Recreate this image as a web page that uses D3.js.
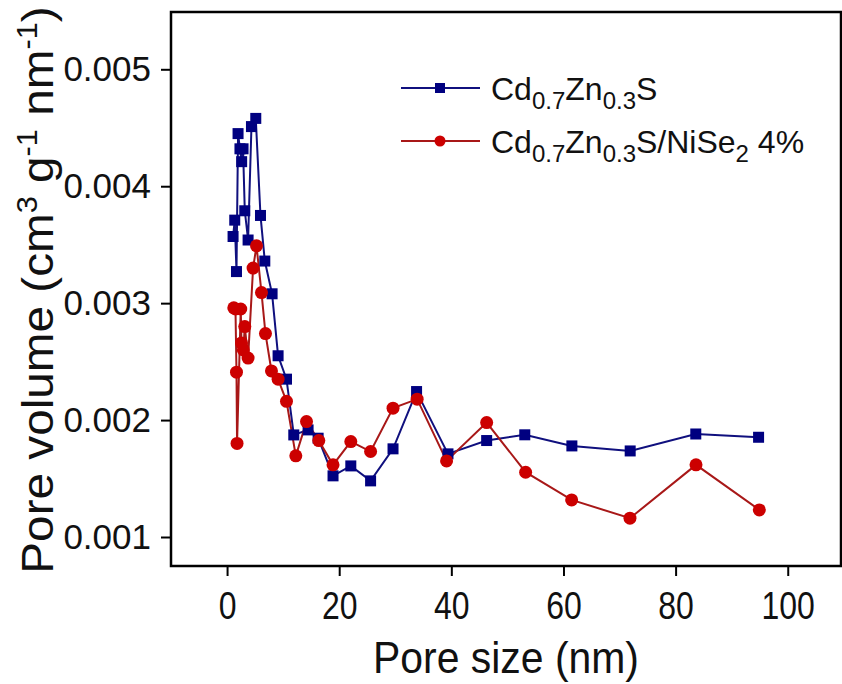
<!DOCTYPE html>
<html>
<head>
<meta charset="utf-8">
<script src="https://cdn.jsdelivr.net/npm/d3@7"></script>
<style>
  body { margin: 0; background: #fff; }
  svg text { font-family: "Liberation Sans", Arial, sans-serif; fill: #111; }
</style>
</head>
<body>
<svg id="chart" width="842" height="684"></svg>
<script>
// Pore size distribution data
const bareSize = [1.07, 1.37, 1.68, 1.96, 2.3, 2.6, 2.85, 3.16, 3.75, 4.35, 5.12, 5.96, 6.73, 8.03, 9.1, 10.6,
    11.9, 14.45, 16.24, 18.9, 22.07, 25.6, 29.6, 33.8, 39.4, 46.3, 53.1, 61.5, 71.9, 83.6, 94.8];
const bareVolume = [0.00357, 0.00371, 0.00327, 0.00445, 0.00432, 0.00421, 0.00432, 0.00379, 0.00354, 0.00451, 0.00458, 0.00375, 0.00336, 0.00308, 0.00255, 0.00235,
    0.001873, 0.001916, 0.001845, 0.001523, 0.001608, 0.00148, 0.001754, 0.002244, 0.001711, 0.001825, 0.001874, 0.001779, 0.001736, 0.001881, 0.001853];

const niseSize = [1.2, 1.5, 1.68, 1.78, 2.44, 2.57, 2.9, 3.16, 3.75, 4.64, 5.25, 6.14, 6.85, 7.92, 9.1, 10.6,
    12.26, 14.17, 16.36, 18.9, 22.07, 25.6, 29.6, 33.9, 39.15, 46.3, 53.25, 61.46, 71.86, 83.64, 94.93];
const niseVolume = [0.00296, 0.00295, 0.00241, 0.0018, 0.00295, 0.00266, 0.0026, 0.0028, 0.00253, 0.0033, 0.00349, 0.00309, 0.00274, 0.00242, 0.00235, 0.00216,
    0.001694, 0.001987, 0.001825, 0.001617, 0.001816, 0.001731, 0.002102, 0.002179, 0.001651, 0.001979, 0.001554, 0.001317, 0.001161, 0.001617, 0.001232];

const xTicks = [0, 20, 40, 60, 80, 100];
const yTicks = [0.001, 0.002, 0.003, 0.004, 0.005];

const svg = d3.select("#chart");

// plot frame in pixels
const frame = {left: 171, top: 12, right: 841, bottom: 566};

const x = d3.scaleLinear().domain([-10, 109.5]).range([frame.left, frame.right]);
const y = d3.scaleLinear().domain([0.000752, 0.00549]).range([frame.bottom, frame.top]);

// Frame
svg.append("rect")
    .attr("x", frame.left).attr("y", frame.top)
    .attr("width", frame.right - frame.left).attr("height", frame.bottom - frame.top)
    .attr("fill", "none")
    .attr("stroke", "#000")
    .attr("stroke-width", 2.5);

// X axis (condensed digits like the original)
const xAxis = svg.append("g")
    .attr("transform", `translate(0,${frame.bottom})`)
    .call(d3.axisBottom(x).tickValues(xTicks).tickSize(10).tickSizeOuter(0).tickPadding(15).tickFormat(d3.format("d")));
xAxis.select(".domain").remove();
xAxis.selectAll("line").attr("stroke", "#000").attr("stroke-width", 2);
xAxis.selectAll("text")
    .style("font-size", "39px")
    .attr("transform", "scale(0.82,1)")
    .attr("fill", "#111");

// Y axis
const yAxis = svg.append("g")
    .attr("transform", `translate(${frame.left},0)`)
    .call(d3.axisLeft(y).tickValues(yTicks).tickSize(10).tickSizeOuter(0).tickPadding(10).tickFormat(d3.format(".3f")));
yAxis.select(".domain").remove();
yAxis.selectAll("line").attr("stroke", "#000").attr("stroke-width", 2);
yAxis.selectAll("text")
    .style("font-size", "35px")
    .attr("fill", "#111");

// Axis titles
svg.append("text")
    .attr("transform", "translate(506,673) scale(0.93,1)")
    .attr("text-anchor", "middle")
    .style("font-size", "44px")
    .text("Pore size (nm)");

const yTitle = svg.append("text")
    .attr("transform", "translate(53,290) rotate(-90) scale(1.06,1)")
    .attr("text-anchor", "middle")
    .style("font-size", "45px");
yTitle.append("tspan").text("Pore volume (cm");
yTitle.append("tspan").attr("dy", -16).style("font-size", "29px").text("3");
yTitle.append("tspan").attr("dy", 16).text(" g");
yTitle.append("tspan").attr("dy", -16).style("font-size", "29px").text("-1");
yTitle.append("tspan").attr("dy", 16).text(" nm");
yTitle.append("tspan").attr("dy", -16).style("font-size", "29px").text("-1");
yTitle.append("tspan").attr("dy", 16).text(")");

// Series
const line = d3.line().x(d => x(d[0])).y(d => y(d[1]));
const bare = bareSize.map((s, i) => [s, bareVolume[i]]);
const nise = niseSize.map((s, i) => [s, niseVolume[i]]);

const blueLine = "#10107e", blueFill = "#000080";
const redLine = "#a81818", redFill = "#cc0000";

svg.append("path").datum(bare)
    .attr("fill", "none").attr("stroke", blueLine).attr("stroke-width", 2)
    .attr("d", line);
svg.append("path").datum(nise)
    .attr("fill", "none").attr("stroke", redLine).attr("stroke-width", 2)
    .attr("d", line);

svg.selectAll(".sq").data(bare).enter().append("rect")
    .attr("x", d => x(d[0]) - 5.5).attr("y", d => y(d[1]) - 5.5)
    .attr("width", 11).attr("height", 11)
    .attr("fill", blueFill);

svg.selectAll(".ci").data(nise).enter().append("circle")
    .attr("cx", d => x(d[0])).attr("cy", d => y(d[1]))
    .attr("r", 6.5)
    .attr("fill", redFill);

// Legend
const legend = svg.append("g");
function legendRow(yPos, color, fill, shape, parts) {
    legend.append("line")
        .attr("x1", 401).attr("x2", 480).attr("y1", yPos).attr("y2", yPos)
        .attr("stroke", color).attr("stroke-width", 2);
    if (shape === "square") {
        legend.append("rect").attr("x", 435).attr("y", yPos - 5).attr("width", 10).attr("height", 10).attr("fill", fill);
    } else {
        legend.append("circle").attr("cx", 440).attr("cy", yPos).attr("r", 5.5).attr("fill", fill);
    }
    const t = legend.append("text").attr("x", 491).attr("y", yPos + 12).style("font-size", "32px");
    parts.forEach(p => {
        if (p.sub) {
            t.append("tspan").attr("dy", 9).style("font-size", "24px").text(p.t);
        } else {
            t.append("tspan").attr("dy", p.after ? -9 : 0).text(p.t);
        }
    });
}
legendRow(88, blueLine, blueFill, "square", [
    {t: "Cd"}, {t: "0.7", sub: true}, {t: "Zn", after: true}, {t: "0.3", sub: true}, {t: "S", after: true}
]);
legendRow(141, redLine, redFill, "circle", [
    {t: "Cd"}, {t: "0.7", sub: true}, {t: "Zn", after: true}, {t: "0.3", sub: true}, {t: "S/NiSe", after: true},
    {t: "2", sub: true}, {t: " 4%", after: true}
]);
</script>
</body>
</html>
